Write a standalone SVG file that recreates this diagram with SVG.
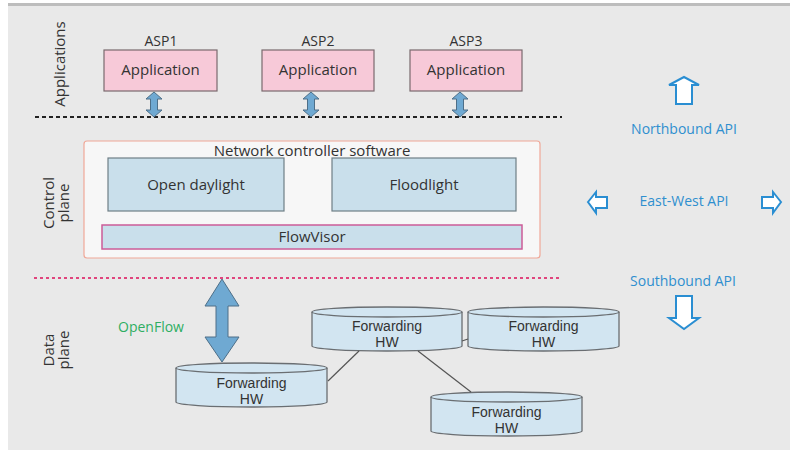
<svg xmlns="http://www.w3.org/2000/svg" width="790" height="450" viewBox="0 0 790 450">
<style>
text{font-family:"Open Sans","Noto Sans","Liberation Sans",sans-serif;fill:#333;}
.lbl{font-size:15px;text-anchor:middle;}
.fw{font-family:"Liberation Sans",Arial,sans-serif;font-size:14px;text-anchor:middle;}
.asp{font-size:14px;text-anchor:middle;}
.side{font-size:15px;text-anchor:middle;}
.api{font-size:14px;fill:#2f8fcf;text-anchor:middle;}
.app{fill:#f7c9d8;stroke:#7a6a6e;stroke-width:1.2;}
.ctl{fill:#c9dfeb;stroke:#6f7f86;stroke-width:1.2;}
.cyl{fill:#d2e5f1;stroke:#6a6e72;stroke-width:1.3;}
.dbl{fill:#6fa9d2;stroke:#4e6f88;stroke-width:1;}
.apiarrow{fill:#fff;stroke:#2a8ed2;stroke-width:2;stroke-linejoin:miter;}
.link{stroke:#555;stroke-width:1.2;fill:none;}
</style>
<rect x="0" y="0" width="790" height="450" fill="#ffffff"/>
<rect x="8" y="4" width="782" height="446" fill="#e9e9e9"/>
<rect x="8" y="3" width="782" height="3" fill="#bdbdbd"/>

<!-- layer labels -->
<text class="side" transform="translate(65,64) rotate(-90)">Applications</text>
<text class="side" transform="translate(54,203) rotate(-90)">Control</text>
<text class="side" transform="translate(69,203) rotate(-90)">plane</text>
<text class="side" transform="translate(54,350) rotate(-90)">Data</text>
<text class="side" transform="translate(69,350) rotate(-90)">plane</text>

<!-- dashed separators -->
<line x1="35" y1="117" x2="562" y2="117" stroke="#222" stroke-width="2" stroke-dasharray="4 3"/>
<line x1="34" y1="278" x2="562" y2="278" stroke="#e0457d" stroke-width="2" stroke-dasharray="3 3"/>

<!-- applications -->
<g id="asp1">
<text class="asp" x="161" y="46">ASP1</text>
<rect class="app" x="104" y="50" width="113" height="41"/>
<text class="lbl" x="160.5" y="75">Application</text>
</g>
<g id="asp2">
<text class="asp" x="318" y="46">ASP2</text>
<rect class="app" x="262" y="50" width="112" height="41"/>
<text class="lbl" x="318" y="75">Application</text>
</g>
<g id="asp3">
<text class="asp" x="466" y="46">ASP3</text>
<rect class="app" x="410" y="50" width="112" height="41"/>
<text class="lbl" x="466" y="75">Application</text>
</g>

<!-- control plane -->
<g id="controller">
<rect x="84" y="141" width="456" height="117" rx="3" fill="#f7f7f7" stroke="#f0a898" stroke-width="1.2"/>
<text class="lbl" x="312" y="156">Network controller software</text>
</g>
<g id="opendaylight">
<rect class="ctl" x="108" y="158" width="176" height="53"/>
<text class="lbl" x="196" y="190">Open daylight</text>
</g>
<g id="floodlight">
<rect class="ctl" x="332" y="158" width="184" height="53"/>
<text class="lbl" x="424" y="190">Floodlight</text>
</g>
<g id="flowvisor">
<rect x="102" y="225" width="420" height="24" fill="#c9dfeb" stroke="#cc5c98" stroke-width="1.5"/>
<text class="lbl" x="312" y="242">FlowVisor</text>
</g>

<!-- forwarding hardware -->
<g id="fw1">
<path class="cyl" d="M176,368 L176,402 A75.5,5 0 0 0 327,402 L327,368"/>
<ellipse class="cyl" cx="251.5" cy="368" rx="75.5" ry="5"/>
<text class="fw" x="251.5" y="388">Forwarding</text>
<text class="fw" x="251.5" y="404">HW</text>
</g>
<g id="fw2">
<path class="cyl" d="M312,312 L312,346 A75,5 0 0 0 462,346 L462,312"/>
<ellipse class="cyl" cx="387" cy="312" rx="75" ry="5"/>
<text class="fw" x="387" y="331">Forwarding</text>
<text class="fw" x="387" y="347">HW</text>
</g>
<g id="fw3">
<path class="cyl" d="M468,312 L468,346 A75.5,5 0 0 0 619,346 L619,312"/>
<ellipse class="cyl" cx="543.5" cy="312" rx="75.5" ry="5"/>
<text class="fw" x="543.5" y="331">Forwarding</text>
<text class="fw" x="543.5" y="347">HW</text>
</g>
<g id="fw4">
<path class="cyl" d="M431,397 L431,431 A75.5,5 0 0 0 582,431 L582,397"/>
<ellipse class="cyl" cx="506.5" cy="397" rx="75.5" ry="5"/>
<text class="fw" x="506.5" y="417">Forwarding</text>
<text class="fw" x="506.5" y="433">HW</text>
</g>

<!-- connectors -->
<g id="connectors">
<polygon class="dbl" points="154,92 162,99 157.5,99 157.5,110 162,110 154,117 146,110 150.5,110 150.5,99 146,99"/>
<polygon class="dbl" points="311,92 319,99 314.5,99 314.5,110 319,110 311,117 303,110 307.5,110 307.5,99 303,99"/>
<polygon class="dbl" points="460,92 468,99 463.5,99 463.5,110 468,110 460,117 452,110 456.5,110 456.5,99 452,99"/>
<polygon class="dbl" points="222,279 239,306 228,306 228,337 239,337 222,362 205,337 216,337 216,306 205,306"/>
<line class="link" x1="328" y1="381" x2="359" y2="351"/>
<line class="link" x1="418" y1="351" x2="471" y2="392"/>
<line class="link" x1="462" y1="341" x2="468" y2="339"/>
</g>

<!-- API labels -->
<g id="northbound">
<polygon class="apiarrow" points="684,77 699,85 692,85 692,104 676,104 676,85 669,85"/>
<text class="api" x="684" y="134">Northbound API</text>
</g>
<g id="eastwest">
<polygon class="apiarrow" points="588,202 596,192 596,197 607,197 607,208 596,208 596,213"/>
<text class="api" x="684" y="206">East-West API</text>
<polygon class="apiarrow" points="781,202 773,192 773,197 762,197 762,208 773,208 773,213"/>
</g>
<g id="southbound">
<text class="api" x="683" y="286">Southbound API</text>
<polygon class="apiarrow" points="676,296 692,296 692,318 699,318 684,329 669,318 676,318"/>
</g>

<g id="openflow">
<text x="151" y="332" style="font-size:14px;fill:#2fae62;text-anchor:middle;">OpenFlow</text>
</g>
</svg>
